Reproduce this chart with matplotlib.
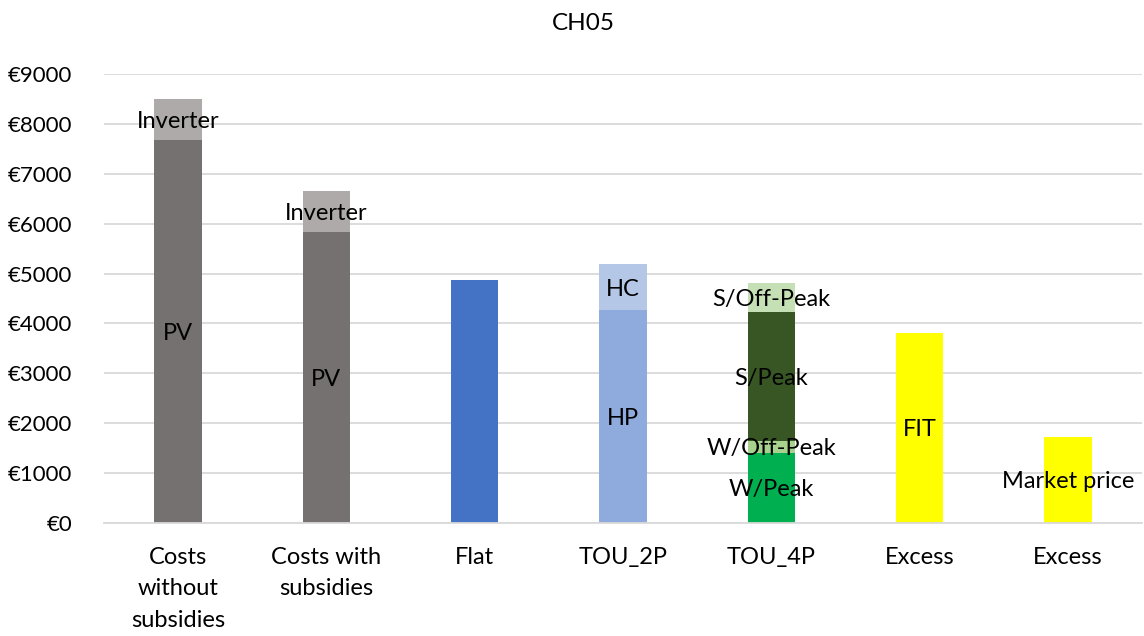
import matplotlib.pyplot as plt
import numpy as np

plt.rcParams['font.family'] = ['Lato', 'DejaVu Sans']

categories = ['Costs\nwithout\nsubsidies', 'Costs with\nsubsidies', 'Flat', 'TOU_2P',
              'TOU_4P', 'Excess', 'Excess']

# stacked segments per category, bottom to top: (label, value, colour)
pv_no_sub = [('PV', 7675, '#767171'), ('Inverter', 825, '#AEAAAA')]
pv_sub = [('PV', 5830, '#767171'), ('Inverter', 820, '#AEAAAA')]
flat = [('', 4870, '#4472C4')]
tou_2p = [('HP', 4270, '#8FAADC'), ('HC', 920, '#B4C7E7')]
tou_4p = [('W/Peak', 1405, '#00B050'), ('W/Off-Peak', 240, '#A9D18E'),
          ('S/Peak', 2585, '#375623'), ('S/Off-Peak', 580, '#C5E0B4')]
excess_fit = [('FIT', 3810, '#FFFF00')]
excess_market = [('Market price', 1725, '#FFFF00')]

stacks = [pv_no_sub, pv_sub, flat, tou_2p, tou_4p, excess_fit, excess_market]

fig = plt.figure(figsize=(11.44, 6.36), dpi=100)
ax = fig.add_axes([104/1144, 113/636, 1038/1144, 449/636])

fs = 17
x = np.arange(len(categories))
w = 0.32
for i, segs in enumerate(stacks):
    bottom = 0
    for lab, val, col in segs:
        ax.bar(x[i], val, w, bottom=bottom, color=col, zorder=2)
        if lab:
            ax.text(x[i], bottom + val / 2, lab, ha='center', va='center_baseline',
                    fontsize=fs, color='black', zorder=3)
        bottom += val

ax.set_xlim(-0.5, len(categories) - 0.5)
ax.set_ylim(0, 9000)
ax.set_yticks(np.arange(0, 9001, 1000))
ax.set_yticklabels(['€%d' % v for v in range(0, 9001, 1000)], fontsize=16)
ax.set_xticks(x)
ax.set_xticklabels(categories, fontsize=fs, linespacing=1.62)
ax.tick_params(length=0)
ax.tick_params(axis='y', pad=23)
ax.tick_params(axis='x', pad=17)
ax.grid(axis='y', color='#D9D9D9', linewidth=1.3, zorder=0)
for s in ['top', 'right', 'left']:
    ax.spines[s].set_visible(False)
ax.spines['bottom'].set_color('#D9D9D9')
ax.spines['bottom'].set_linewidth(1.3)
fig.text(583/1144, 1 - 23/636, 'CH05', fontsize=17.5, ha='center', va='center')

fig.savefig('out.png', dpi=100)
